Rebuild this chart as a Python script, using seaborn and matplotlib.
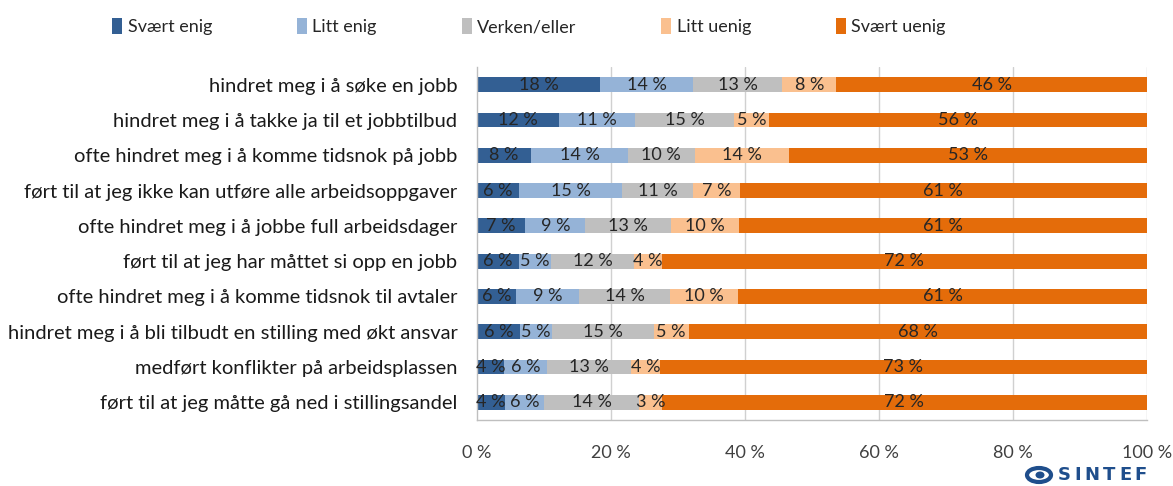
import numpy as np
import pandas as pd
import matplotlib
matplotlib.use("Agg")
import matplotlib.pyplot as plt
import seaborn as sns
from matplotlib.patches import Patch, Ellipse

categories = [
    "hindret meg i å søke en jobb",
    "hindret meg i å takke ja til et jobbtilbud",
    "ofte hindret meg i å komme tidsnok på jobb",
    "ført til at jeg ikke kan utføre alle arbeidsoppgaver",
    "ofte hindret meg i å jobbe full arbeidsdager",
    "ført til at jeg har måttet si opp en jobb",
    "ofte hindret meg i å komme tidsnok til avtaler",
    "hindret meg i å bli tilbudt en stilling med økt ansvar",
    "medført konflikter på arbeidsplassen",
    "ført til at jeg måtte gå ned i stillingsandel",
]
series = ["Svært enig", "Litt enig", "Verken/eller", "Litt uenig", "Svært uenig"]
svaert_enig = [18.4, 12.2, 8.1, 6.3, 7.2, 6.3, 5.9, 6.4, 4.1, 4.2]
litt_enig = [13.8, 11.4, 14.4, 15.4, 9.0, 4.8, 9.4, 4.8, 6.3, 5.8]
verken_eller = [13.4, 14.8, 10.0, 10.6, 12.7, 12.3, 13.5, 15.2, 12.6, 14.2]
litt_uenig = [8.0, 5.2, 14.1, 6.9, 10.2, 4.2, 10.2, 5.2, 4.3, 3.4]
svaert_uenig = [46.4, 56.4, 53.4, 60.8, 60.9, 72.4, 61.0, 68.4, 72.7, 72.4]
xtick_labels = ["0 %", "20 %", "40 %", "60 %", "80 %", "100 %"]
colors = ["#335F93", "#95B3D7", "#BFBFBF", "#FAC08F", "#E46C0A"]
logo_text = "SINTEF"

sns.set_style("white")
plt.rcParams["font.family"] = ["Lato", "DejaVu Sans"]

vals = np.array([svaert_enig, litt_enig, verken_eller, litt_uenig, svaert_uenig])
cum = np.cumsum(vals, axis=0)
df = pd.DataFrame({"cat": categories})
for i, s in enumerate(series):
    df[s] = cum[i]

W, H = 1173, 486
fig = plt.figure(figsize=(W / 100, H / 100), dpi=100)
ax = fig.add_axes([0.4066, 0.1358, 0.5712, 0.7262])

# vertical gridlines behind bars
for xv in [20, 40, 60, 80, 100]:
    ax.axvline(xv, color="#D0D0D0", lw=1.0, zorder=0)

for i in range(len(series) - 1, -1, -1):
    sns.barplot(data=df, x=series[i], y="cat", order=categories, color=colors[i],
                width=0.42, saturation=1, orient="h", ax=ax, zorder=2, linewidth=0)

# labels
for i in range(len(series)):
    for j in range(len(categories)):
        start = cum[i, j] - vals[i, j]
        ax.text(start + vals[i, j] / 2, j, f"{vals[i, j]:.0f} %", ha="center", va="center",
                fontsize=13, color="#262626", zorder=5)

ax.set_xlim(0, 100)
ax.set_ylim(9.5, -0.5)
ax.set_xlabel("")
ax.set_ylabel("")
ax.set_xticks([0, 20, 40, 60, 80, 100])
ax.set_xticklabels(xtick_labels, fontsize=13, color="#404040")
ax.set_yticks(range(len(categories)))
ax.set_yticklabels(categories, fontsize=14.5, color="#1a1a1a")
ax.set_yticks(np.arange(-0.5, 10, 1), minor=True)
ax.tick_params(axis="y", which="major", length=0, pad=14)
ax.tick_params(axis="y", which="minor", length=6, color="#BFBFBF", direction="out")
ax.tick_params(axis="x", which="major", length=6, color="#BFBFBF", direction="out", pad=12)
for side in ["top", "right"]:
    ax.spines[side].set_visible(False)
for side in ["left", "bottom"]:
    ax.spines[side].set_color("#BFBFBF")
    ax.spines[side].set_linewidth(1.0)
ax.grid(False)

handles = [Patch(facecolor=c, edgecolor="none") for c in colors]
fig.legend(handles, series, loc="center", bbox_to_anchor=(0.451, 0.945), ncol=5,
           frameon=False, fontsize=13, handlelength=0.55, handleheight=1.0,
           handletextpad=0.3, columnspacing=4.7)

# SINTEF logo: letter-spaced bold text
renderer = fig.canvas.get_renderer()
letters = []
widths = []
for ch in logo_text:
    t = fig.text(0, 0, ch, fontsize=13, fontweight="black", color="#1F4E8C",
                 family=["DejaVu Sans"], ha="left", va="center")
    widths.append(t.get_window_extent(renderer).width)
    letters.append(t)
x0, x1 = 1058, 1147
gap = ((x1 - x0) - sum(widths)) / (len(letters) - 1)
xc = x0
for t, w in zip(letters, widths):
    t.set_position((xc / W, 1 - 475 / H))
    xc += w + gap

logo = Ellipse((1039 / W, 1 - 475 / H), 24 / W, 14 / H, transform=fig.transFigure,
               facecolor="none", edgecolor="#1F4E8C", lw=3.0)
fig.add_artist(logo)
logo2 = Ellipse((1040 / W, 1 - 475 / H), 9 / W, 7 / H, transform=fig.transFigure,
                facecolor="#1F4E8C", edgecolor="none")
fig.add_artist(logo2)

fig.savefig("out.png", dpi=100, facecolor="white")
